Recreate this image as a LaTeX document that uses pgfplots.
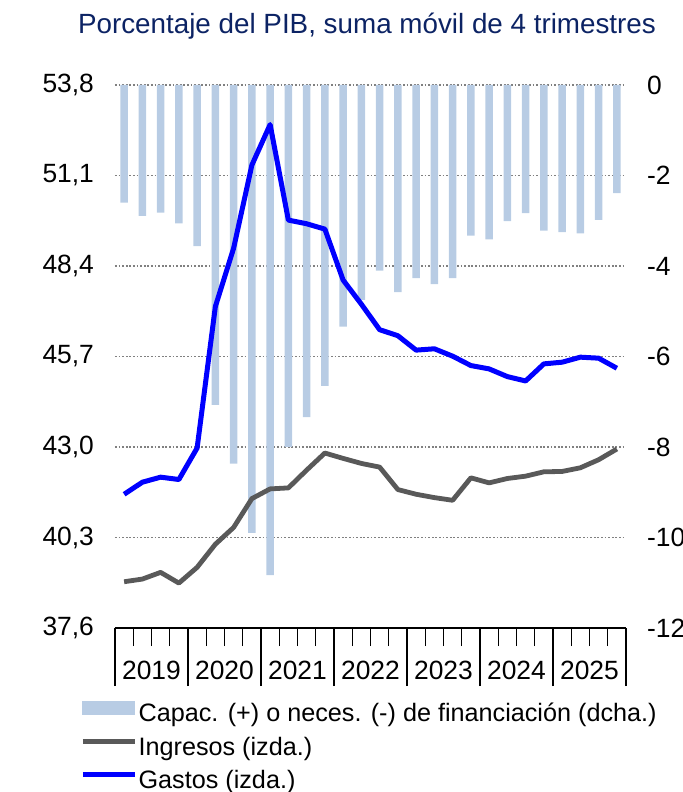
\documentclass[border=0pt]{standalone}
\usepackage{fontspec}
\setmainfont{Liberation Sans}
\usepackage{pgfplots}
\usepackage{pgfplotstable}
\pgfplotsset{compat=1.18}

\definecolor{barblue}{RGB}{184,204,228}
\definecolor{ingresos}{RGB}{89,89,89}
\definecolor{gastos}{RGB}{0,0,255}
\definecolor{titulo}{RGB}{12,35,100}
\definecolor{rejilla}{RGB}{128,128,128}

% Quarterly data 2019Q1-2025Q4 (index 0..27)
% saldo: capacidad/necesidad de financiacion (right axis)
% ingresos, gastos: % of GDP (left axis)
\pgfplotstableread{
q  saldo   ingresos gastos
0  -2.60   38.98    41.59
1  -2.89   39.06    41.95
2  -2.82   39.26    42.10
3  -3.06   38.94    42.03
4  -3.56   39.41    42.97
5  -7.07   40.10    47.19
6  -8.37   40.60    48.93
7  -9.90   41.46    51.41
8  -10.83  41.75    52.62
9  -8.00   41.78    49.77
10 -7.34   42.31    49.66
11 -6.65   42.82    49.50
12 -5.34   42.66    47.98
13 -4.75   42.51    47.26
14 -4.10   42.40    46.50
15 -4.58   41.73    46.32
16 -4.27   41.59    45.89
17 -4.40   41.49    45.93
18 -4.27   41.41    45.71
19 -3.33   42.08    45.43
20 -3.41   41.93    45.33
21 -3.01   42.06    45.10
22 -2.83   42.13    44.97
23 -3.22   42.26    45.48
24 -3.25   42.27    45.53
25 -3.28   42.38    45.68
26 -2.98   42.62    45.65
27 -2.39   42.94    45.35
}\datos

\begin{document}
\begin{tikzpicture}
\useasboundingbox (-57.5pt,-82pt) rectangle (284pt,314pt);

% Right axis: financing balance bars and the dotted grid
\begin{axis}[
  at={(0,0)}, anchor=south west,
  scale only axis, width=255.5pt, height=271.5pt,
  xmin=-0.5, xmax=27.5, ymin=-12, ymax=0,
  hide x axis,
  axis y line*=right,
  y axis line style={draw=none},
  ytick={-12,-10,-8,-6,-4,-2,0},
  major tick length=0pt,
  ymajorgrids,
  grid style={rejilla, line width=0.9pt, dash pattern=on 0.9pt off 0.9pt},
  /pgf/number format/assume math mode=true,
  yticklabel style={font=\fontsize{13.2}{15}\selectfont, xshift=7pt},
]
\addplot[ybar, bar width=3.8pt, fill=barblue, draw=none] table[x=q, y=saldo] {\datos};
\end{axis}

% Left axis: revenue and expenditure lines
\begin{axis}[
  at={(0,0)}, anchor=south west,
  scale only axis, width=255.5pt, height=271.5pt,
  xmin=-0.5, xmax=27.5, ymin=37.6, ymax=53.8,
  axis x line*=bottom, axis y line*=left,
  x axis line style={-, black, line width=0.7pt},
  y axis line style={draw=none},
  ytick={37.6,40.3,43.0,45.7,48.4,51.1,53.8},
  ytick style={draw=none},
  /pgf/number format/assume math mode=true,
  yticklabel style={/pgf/number format/.cd, fixed, fixed zerofill, precision=1, use comma, /tikz/.cd, font=\fontsize{13.2}{15}\selectfont, xshift=-7pt},
  xtick={1.5,5.5,9.5,13.5,17.5,21.5,25.5},
  xticklabels={2019,2020,2021,2022,2023,2024,2025},
  xticklabel style={font=\fontsize{13.2}{15}\selectfont, anchor=base, yshift=-25.5pt},
  minor xtick={0.5,1.5,2.5,4.5,5.5,6.5,8.5,9.5,10.5,12.5,13.5,14.5,16.5,17.5,18.5,20.5,21.5,22.5,24.5,25.5,26.5},
  tick align=outside,
  major tick length=0pt, minor tick length=9pt,
  extra x ticks={-0.5,3.5,7.5,11.5,15.5,19.5,23.5,27.5},
  extra x tick labels={},
  extra x tick style={major tick length=29pt},
  x tick style={black, line width=0.7pt},
  legend style={at={(-0.0685,-0.1335)}, anchor=north west, draw=none, fill=none,
    inner sep=0pt, font=\fontsize{12.6}{15}\selectfont, row sep=4.75pt,
    nodes={inner sep=0pt, inner xsep=0.6pt, text height=9.2pt, text depth=2.8pt}},
  legend cell align=left,
  legend image code/.code={\draw (0pt,3.7pt) -- (26pt,3.7pt);},
]
\addlegendimage{legend image code/.code={\fill[barblue] (0pt,0.5pt) rectangle (26pt,7pt);}}
\addlegendentry{Capac. (+) o neces. (-) de financiación (dcha.)}
\addplot[ingresos, line width=2.4pt, line join=round] table[x=q, y=ingresos] {\datos};
\addlegendentry{Ingresos (izda.)}
\addplot[gastos, line width=2.5pt, line join=round] table[x=q, y=gastos] {\datos};
\addlegendentry{Gastos (izda.)}
\end{axis}

\node[anchor=base, font=\fontsize{13.9}{16}\selectfont, text=titulo, inner sep=0pt] at (126pt,297pt) {Porcentaje del PIB, suma móvil de 4 trimestres};
\end{tikzpicture}
\end{document}
